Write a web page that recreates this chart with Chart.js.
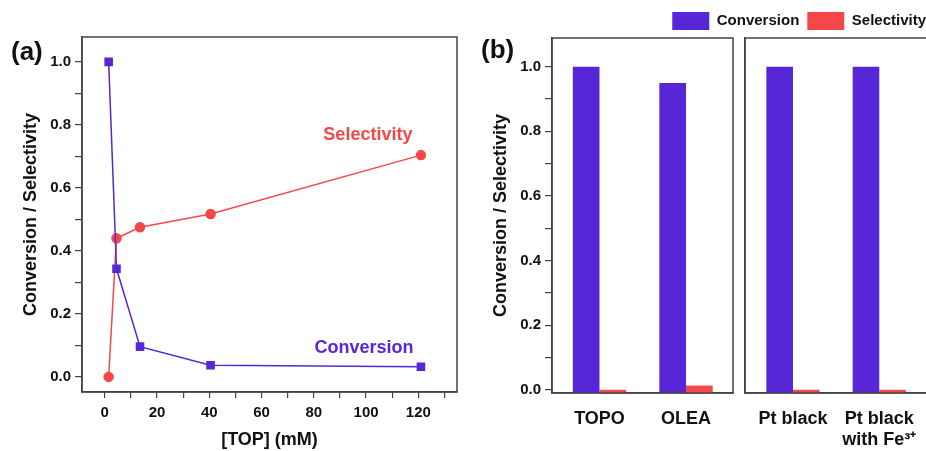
<!DOCTYPE html>
<html>
<head>
<meta charset="utf-8">
<script src="https://cdn.jsdelivr.net/npm/chart.js@4.4.1/dist/chart.umd.min.js"></script>
<style>
    body { margin: 0; background: #fff; width: 926px; height: 451px; overflow: hidden; position: relative; }
    .panel { position: absolute; top: 0; height: 451px; }
    .tag { position: absolute; font: bold 26px 'Liberation Sans', Arial, sans-serif; line-height: 26px; color: #111; }
</style>
</head>
<body>
<div class="panel" style="left:0; width:470px"><canvas id="chartA"></canvas></div>
<div class="panel" style="left:470px; width:270px"><canvas id="chartB1"></canvas></div>
<div class="panel" style="left:646px; width:288px"><canvas id="chartB2"></canvas></div>
<div class="tag" style="left:11px; top:38px">(a)</div>
<div class="tag" style="left:481px; top:36px">(b)</div>

<script>
// Panel (a) : conversion / selectivity vs [TOP]
const topConc = [1.5, 4.5, 13.5, 40.5, 121];
const conversionA = [1.0, 0.343, 0.096, 0.037, 0.032];
const selectivityA = [0.0, 0.44, 0.475, 0.517, 0.704];

// Panel (b) : ligands (left box) and Pt black (right box)
const ligandLabels = ['TOPO', 'OLEA'];
const ligandConversion = [1.0, 0.95];
const ligandSelectivity = [0.0, 0.013];
const ptLabels = ['Pt black', ['Pt black', 'with Fe³⁺']];
const ptConversion = [1.0, 1.0];
const ptSelectivity = [0.0, 0.0];

const PURPLE = '#5726d6';
const RED = '#f44848';
const AXIS = '#444';
const FONT = "'Liberation Sans', Arial, sans-serif";

Chart.defaults.font.family = FONT;
Chart.defaults.color = '#111';
Chart.defaults.animation = false;

// cadre complet autour de la zone de tracé
const frameBox = {
    id: 'frameBox',
    afterDraw(chart) {
        const { ctx, chartArea: a } = chart;
        ctx.save();
        ctx.strokeStyle = AXIS;
        ctx.lineWidth = 1.5;
        ctx.strokeRect(a.left, a.top, a.right - a.left, a.bottom - a.top);
        ctx.restore();
    }
};

// étiquettes des séries placées en coordonnées de données
const seriesLabels = {
    id: 'seriesLabels',
    afterDatasetsDraw(chart, args, opts) {
        const { ctx, scales: { x, y } } = chart;
        ctx.save();
        ctx.font = 'bold 18px ' + FONT;
        ctx.textAlign = 'center';
        ctx.textBaseline = 'middle';
        opts.items.forEach(item => {
            ctx.fillStyle = item.color;
            ctx.fillText(item.text, x.getPixelForValue(item.x), y.getPixelForValue(item.y));
        });
        ctx.restore();
    }
};

// la légende ne doit pas repousser la zone de tracé au-delà de la hauteur voulue
const legendHeight = {
    id: 'legendHeight',
    afterInit(chart, args, opts) {
        const legend = chart.legend;
        if (!legend) return;
        const fit = legend.fit.bind(legend);
        legend.fit = function () {
            fit();
            this.height = opts.height;
        };
    }
};

const tickFont = { size: 15, weight: 'bold' };
const titleFont = { size: 18, weight: 'bold' };
const evenLabel = v => (Math.round(v * 10) % 2 === 0 ? v.toFixed(1) : '');

function toPoints(xs, ys) {
    return xs.map((x, i) => ({ x: x, y: ys[i] }));
}

function indexPoints(ys) {
    return ys.map((y, i) => ({ x: i, y: y }));
}

/**
 * Panel (a)
 */
new Chart(document.getElementById('chartA'), {
    type: 'scatter',
    data: {
        datasets: [{
            label: 'Conversion',
            data: toPoints(topConc, conversionA),
            showLine: true,
            borderColor: PURPLE,
            backgroundColor: PURPLE,
            borderWidth: 1.5,
            pointStyle: 'rect',
            pointRadius: 5,
            pointHoverRadius: 5
        }, {
            label: 'Selectivity',
            data: toPoints(topConc, selectivityA),
            showLine: true,
            borderColor: RED,
            backgroundColor: RED,
            borderWidth: 1.5,
            pointStyle: 'circle',
            pointRadius: 4.5,
            pointHoverRadius: 4.5
        }]
    },
    options: {
        responsive: true,
        maintainAspectRatio: false,
        layout: { padding: { top: 37, right: 13, left: 0, bottom: 0 } },
        plugins: {
            legend: { display: false },
            tooltip: { enabled: false },
            seriesLabels: {
                items: [
                    { text: 'Selectivity', x: 100.7, y: 0.768, color: RED },
                    { text: 'Conversion', x: 99.2, y: 0.092, color: PURPLE }
                ]
            }
        },
        scales: {
            x: {
                type: 'linear',
                min: -8.7,
                max: 134.8,
                afterFit: s => { s.height = 59; },
                border: { color: AXIS, width: 1.5 },
                grid: { drawOnChartArea: false, drawTicks: true, tickLength: 6, color: AXIS, lineWidth: 1.2 },
                ticks: {
                    stepSize: 10,
                    includeBounds: false,
                    autoSkip: false,
                    maxRotation: 0,
                    padding: 6,
                    font: tickFont,
                    callback: v => (v % 20 === 0 ? String(v) : '')
                },
                title: { display: true, text: '[TOP] (mM)', font: titleFont, padding: { top: 0, bottom: 0 } }
            },
            y: {
                min: -0.048,
                max: 1.079,
                afterFit: s => { s.width = 82; },
                border: { color: AXIS, width: 1.5 },
                grid: { drawOnChartArea: false, drawTicks: true, tickLength: 7, color: AXIS, lineWidth: 1.2 },
                ticks: {
                    stepSize: 0.1,
                    includeBounds: false,
                    autoSkip: false,
                    padding: 4,
                    font: tickFont,
                    callback: evenLabel
                },
                title: { display: true, text: 'Conversion / Selectivity', font: titleFont, padding: { top: 20, bottom: 0 } }
            }
        }
    },
    plugins: [frameBox, seriesLabels]
});

// axe X des barres : index de catégorie sur une échelle linéaire
function barXAxis(labels, min, max) {
    return {
        type: 'linear',
        min: min,
        max: max,
        offset: false,
        afterFit: s => { s.height = 58; },
        border: { color: AXIS, width: 1.5 },
        grid: { display: false, offset: false },
        ticks: {
            stepSize: 1,
            includeBounds: false,
            autoSkip: false,
            maxRotation: 0,
            padding: 7,
            font: { size: 18, weight: 'bold' },
            callback: v => labels[v]
        }
    };
}

const barDefaults = { base: -0.01, categoryPercentage: 0.617, barPercentage: 1.0 };

/**
 * Panel (b) - boîte de gauche avec l'axe Y
 */
new Chart(document.getElementById('chartB1'), {
    type: 'bar',
    data: {
        datasets: [{
            label: 'Conversion',
            data: indexPoints(ligandConversion),
            backgroundColor: PURPLE
        }, {
            label: 'Selectivity',
            data: indexPoints(ligandSelectivity),
            backgroundColor: RED
        }]
    },
    options: {
        responsive: true,
        maintainAspectRatio: false,
        layout: { padding: { top: 38, right: 7, left: 0, bottom: 0 } },
        datasets: { bar: barDefaults },
        plugins: { legend: { display: false }, tooltip: { enabled: false } },
        scales: {
            x: barXAxis(ligandLabels, -0.549, 1.543),
            y: {
                min: -0.01,
                max: 1.089,
                afterFit: s => { s.width = 82; },
                border: { color: AXIS, width: 1.5 },
                grid: { drawOnChartArea: false, drawTicks: true, tickLength: 7, color: AXIS, lineWidth: 1.2 },
                ticks: {
                    stepSize: 0.1,
                    includeBounds: false,
                    autoSkip: false,
                    padding: 4,
                    font: tickFont,
                    callback: evenLabel
                },
                title: { display: true, text: 'Conversion / Selectivity', font: titleFont, padding: { top: 20, bottom: 0 } }
            }
        }
    },
    plugins: [frameBox]
});

/**
 * Panel (b) - boîte de droite, porte la légende
 */
new Chart(document.getElementById('chartB2'), {
    type: 'bar',
    data: {
        datasets: [{
            label: 'Conversion',
            data: indexPoints(ptConversion),
            backgroundColor: PURPLE
        }, {
            label: 'Selectivity',
            data: indexPoints(ptSelectivity),
            backgroundColor: RED
        }]
    },
    options: {
        responsive: true,
        maintainAspectRatio: false,
        layout: { padding: { top: 4, right: 0, left: 0, bottom: 0 } },
        datasets: { bar: barDefaults },
        plugins: {
            tooltip: { enabled: false },
            legendHeight: { height: 34 },
            legend: {
                position: 'top',
                align: 'end',
                labels: {
                    boxWidth: 37,
                    boxHeight: 18,
                    padding: 8,
                    font: { size: 15, weight: 'bold' },
                    color: '#111'
                }
            }
        },
        scales: {
            x: barXAxis(ptLabels, -0.556, 1.634),
            y: {
                min: -0.01,
                max: 1.089,
                afterFit: s => { s.width = 99; },
                border: { color: AXIS, width: 1.5 },
                grid: { display: false },
                ticks: { display: false, stepSize: 0.1 }
            }
        }
    },
    plugins: [frameBox, legendHeight]
});
</script>
</body>
</html>
